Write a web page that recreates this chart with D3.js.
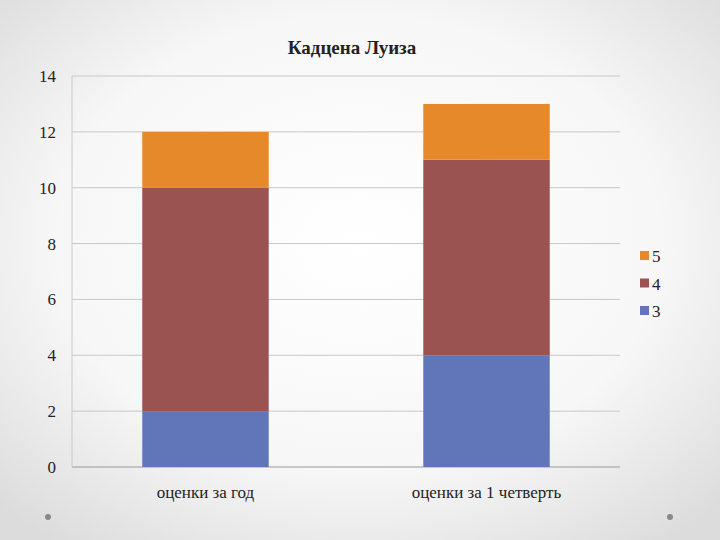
<!DOCTYPE html>
<html>
<head>
<meta charset="utf-8">
<script src="https://cdn.jsdelivr.net/npm/d3@7"></script>
<style>
  body { margin: 0; }
  text { font-family: "Liberation Serif", "DejaVu Serif", serif; }
</style>
</head>
<body>
<svg id="chart" width="720" height="540"></svg>
<script>
var categories = ["оценки за год", "оценки за 1 четверть"];
var grade3 = [2, 4];
var grade4 = [8, 7];
var grade5 = [2, 2];
var yTicks = [0, 2, 4, 6, 8, 10, 12, 14];
var seriesNames = ["3", "4", "5"];
var colors = {"3": "#6176b8", "4": "#9b5352", "5": "#e6892a"};

var svg = d3.select("#chart");
var defs = svg.append("defs");
var grad = defs.append("radialGradient").attr("id", "bg").attr("cx", "50%").attr("cy", "45%").attr("r", "70%");
grad.append("stop").attr("offset", "0%").attr("stop-color", "#ffffff");
grad.append("stop").attr("offset", "60%").attr("stop-color", "#f7f7f7");
grad.append("stop").attr("offset", "100%").attr("stop-color", "#dcdcdc");
svg.append("rect").attr("width", 720).attr("height", 540).attr("fill", "url(#bg)");

var plotL = 72, plotR = 620, plotT = 76, plotB = 467;
var x = d3.scaleBand().domain(categories).range([plotL, plotR]).paddingInner(0.55).paddingOuter(0.25);
var y = d3.scaleLinear().domain([0, 14]).range([plotB, plotT]);

// gridlines
svg.append("g").selectAll("line").data(yTicks).enter().append("line")
  .attr("x1", plotL).attr("x2", plotR)
  .attr("y1", function(d) { return y(d); }).attr("y2", function(d) { return y(d); })
  .attr("stroke", function(d) { return d === 0 ? "#999" : "#c8c8c8"; }).attr("stroke-width", 1);
svg.append("line").attr("x1", plotL).attr("x2", plotL).attr("y1", plotT).attr("y2", plotB).attr("stroke", "#c8c8c8");

var rows = categories.map(function(c, i) { return {cat: c, "3": grade3[i], "4": grade4[i], "5": grade5[i]}; });
var stack = d3.stack().keys(seriesNames)(rows);
svg.append("g").selectAll("g").data(stack).enter().append("g")
  .attr("fill", function(d) { return colors[d.key]; })
  .selectAll("rect").data(function(d) { return d; }).enter().append("rect")
  .attr("x", function(d) { return x(d.data.cat); })
  .attr("width", x.bandwidth())
  .attr("y", function(d) { return y(d[1]); })
  .attr("height", function(d) { return y(d[0]) - y(d[1]); });

// y labels
svg.append("g").selectAll("text").data(yTicks).enter().append("text")
  .attr("x", 56).attr("y", function(d) { return y(d) + 6; })
  .attr("text-anchor", "end").attr("font-size", 17).attr("fill", "#222")
  .text(function(d) { return d; });

// x labels
svg.append("g").selectAll("text").data(categories).enter().append("text")
  .attr("x", function(d) { return x(d) + x.bandwidth() / 2; }).attr("y", 498)
  .attr("text-anchor", "middle").attr("font-size", 17).attr("fill", "#222")
  .text(function(d) { return d; });

// title
svg.append("text").attr("x", 352).attr("y", 54).attr("text-anchor", "middle")
  .attr("font-size", 19).attr("font-weight", "bold").attr("fill", "#222").text("Кадцена Луиза");

// legend
var legend = svg.append("g").selectAll("g").data(seriesNames.slice().reverse()).enter().append("g")
  .attr("transform", function(d, i) { return "translate(640," + (251 + i * 27.5) + ")"; });
legend.append("rect").attr("width", 9).attr("height", 9).attr("fill", function(d) { return colors[d]; });
legend.append("text").attr("x", 12).attr("y", 11).attr("font-size", 17).attr("fill", "#222").text(function(d) { return d; });

// corner dots
svg.selectAll("circle.dot").data([48, 670]).enter().append("circle")
  .attr("cx", function(d) { return d; }).attr("cy", 517).attr("r", 3).attr("fill", "#888");
</script>
</body>
</html>
